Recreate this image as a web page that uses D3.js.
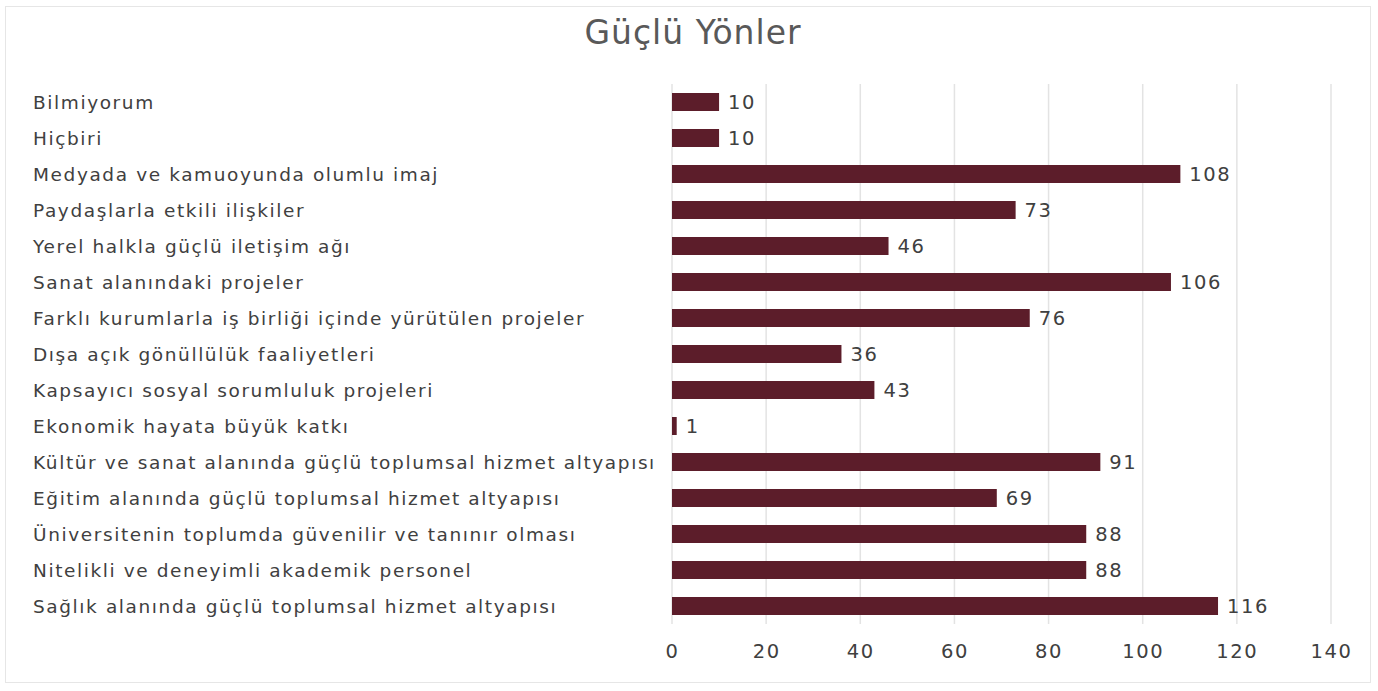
<!DOCTYPE html>
<meta charset="utf-8">
<script src="https://d3js.org/d3.v7.min.js"></script>
<style>
  body { margin: 0; background: #fff; }
  text { font-family: "DejaVu Sans", Lato, sans-serif; }
</style>
<svg id="chart" width="1378" height="691"></svg>
<script>

// Data
var categories = [
  "Bilmiyorum",
  "Hiçbiri",
  "Medyada ve kamuoyunda olumlu imaj",
  "Paydaşlarla etkili ilişkiler",
  "Yerel halkla güçlü iletişim ağı",
  "Sanat alanındaki projeler",
  "Farklı kurumlarla iş birliği içinde yürütülen projeler",
  "Dışa açık gönüllülük faaliyetleri",
  "Kapsayıcı sosyal sorumluluk projeleri",
  "Ekonomik hayata büyük katkı",
  "Kültür ve sanat alanında güçlü toplumsal hizmet altyapısı",
  "Eğitim alanında güçlü toplumsal hizmet altyapısı",
  "Üniversitenin toplumda güvenilir ve tanınır olması",
  "Nitelikli ve deneyimli akademik personel",
  "Sağlık alanında güçlü toplumsal hizmet altyapısı"
];
var values = [10, 10, 108, 73, 46, 106, 76, 36, 43, 1, 91, 69, 88, 88, 116];
var ticks = [0, 20, 40, 60, 80, 100, 120, 140];

var svg = d3.select("#chart");

// frame
svg.append("rect")
  .attr("x", 5.5).attr("y", 6.5)
  .attr("width", 1365).attr("height", 676)
  .attr("fill", "#fff")
  .attr("stroke", "#e6e6e6");

// title
svg.append("text")
  .attr("x", 693).attr("y", 44)
  .attr("text-anchor", "middle")
  .attr("fill", "#595959")
  .style("font-size", "33px")
  .style("letter-spacing", "1px")
  .text("Güçlü Yönler");

var x = d3.scaleLinear().domain([0, 140]).range([672, 1331]);
var y = d3.scaleBand().domain(categories).range([84, 624]).paddingInner(0.5).paddingOuter(0.25);

// gridlines
svg.append("g").selectAll("line")
  .data(ticks)
  .join("line")
  .attr("x1", d => x(d)).attr("x2", d => x(d))
  .attr("y1", 84).attr("y2", 624)
  .attr("stroke", "#e3e3e3")
  .attr("stroke-width", 1.5);

// x axis labels
var xAxis = svg.append("g")
  .attr("transform", "translate(0,624)")
  .call(d3.axisBottom(x).tickValues(ticks).tickSize(0).tickPadding(20));
xAxis.select(".domain").remove();
xAxis.selectAll("text")
  .attr("fill", "#404040")
  .style("font-size", "19.5px")
  .style("letter-spacing", "1.6px")
  .style("font-family", "'DejaVu Sans', sans-serif");

// bars
svg.append("g").selectAll("rect")
  .data(values)
  .join("rect")
  .attr("x", x(0))
  .attr("y", (d, i) => y(categories[i]))
  .attr("width", d => x(d) - x(0))
  .attr("height", y.bandwidth())
  .attr("fill", "#5c1d2a");

// value labels
svg.append("g").selectAll("text")
  .data(values)
  .join("text")
  .attr("x", d => x(d) + 9)
  .attr("y", (d, i) => y(categories[i]) + y.bandwidth() / 2)
  .attr("dy", "0.36em")
  .attr("fill", "#404040")
  .style("font-size", "19.5px")
  .style("letter-spacing", "1.6px")
  .text(d => d);

// category labels
svg.append("g").selectAll("text")
  .data(categories)
  .join("text")
  .attr("x", 33)
  .attr("y", d => y(d) + y.bandwidth() / 2)
  .attr("dy", "0.36em")
  .attr("fill", "#404040")
  .style("font-size", "18.5px")
  .style("letter-spacing", "1.6px")
  .text(d => d);

</script>
